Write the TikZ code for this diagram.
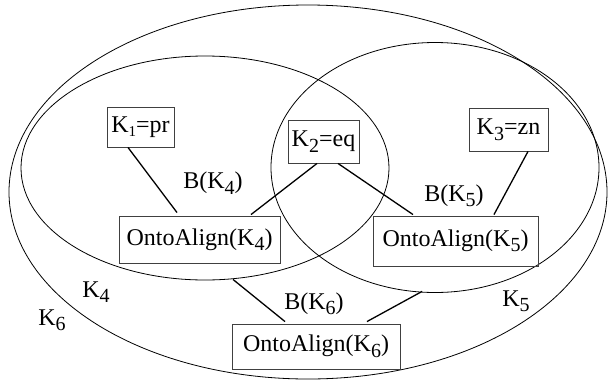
\documentclass[tikz,border=0pt]{standalone}
\usepackage{fontspec}
\setmainfont{Liberation Serif}
\newcommand{\sbs}[1]{\raisebox{-5.5pt}{\fontsize{20}{22}\selectfont #1}}
\newcommand{\sbsmall}[1]{\raisebox{-4pt}{\fontsize{15}{16}\selectfont #1}}
\begin{document}
\begin{tikzpicture}[x=1pt,y=-1pt,
  txt/.style={font=\fontsize{24}{28}\selectfont, inner sep=0pt},
  kbox/.style={txt, draw=black!75, line width=0.9pt, align=center},
  link/.style={line width=1.3pt},
  set/.style={line width=0.8pt}]
\useasboundingbox (0,0) rectangle (608,381);
% sets
\draw[set] (308,192) ellipse [x radius=299, y radius=187];
\draw[set] (205,168) ellipse [x radius=184, y radius=112];
\draw[set] (435,167.5) ellipse [x radius=164, y radius=125];
% boxes
\node[kbox, minimum width=67pt, minimum height=40pt] (k1) at (140.5,127) {K\sbsmall{1}=pr};
\node[kbox, minimum width=71pt, minimum height=43pt] (k2) at (323.5,141.5) {K\sbs{2}=eq};
\node[kbox, minimum width=79pt, minimum height=43pt] (k3) at (508.5,129.5) {K\sbs{3}=zn};
\node[kbox, minimum width=161pt, minimum height=47pt] (oa4) at (199.5,239.5) {OntoAlign(K\sbs{4})};
\node[kbox, minimum width=165pt, minimum height=50pt] (oa5) at (455.5,241) {OntoAlign(K\sbs{5})};
\node[kbox, minimum width=168pt, minimum height=45pt] (oa6) at (316,346.5) {OntoAlign(K\sbs{6})};
% labels
\node[txt] (b4) at (213,183) {B(K\sbs{4})};
\node[txt] (b5) at (454,196) {B(K\sbs{5})};
\node[txt] (b6) at (314,304) {B(K\sbs{6})};
\node[txt] (l4) at (96,292) {K\sbs{4}};
\node[txt] (l5) at (516,301) {K\sbs{5}};
\node[txt] (l6) at (52,320) {K\sbs{6}};
% connectors
\draw[link] ([xshift=-12.5pt]k1.south) -- ([xshift=-22.5pt,yshift=3pt]oa4.north);
\draw[link] ([xshift=-6.5pt]k2.south) -- ([xshift=51.5pt,yshift=1pt]oa4.north);
\draw[link] ([xshift=14.5pt]k2.south) -- ([xshift=-42.5pt,yshift=1pt]oa5.north);
\draw[link] ([xshift=19.5pt]k3.south) -- ([xshift=38.5pt,yshift=1pt]oa5.north);
\draw[link] ([xshift=33.5pt,yshift=-16pt]oa4.south) -- ([xshift=-31pt,yshift=2pt]oa6.north);
\draw[link] ([xshift=-33.5pt,yshift=-25pt]oa5.south) -- ([xshift=51pt,yshift=2pt]oa6.north);
\end{tikzpicture}
\end{document}
